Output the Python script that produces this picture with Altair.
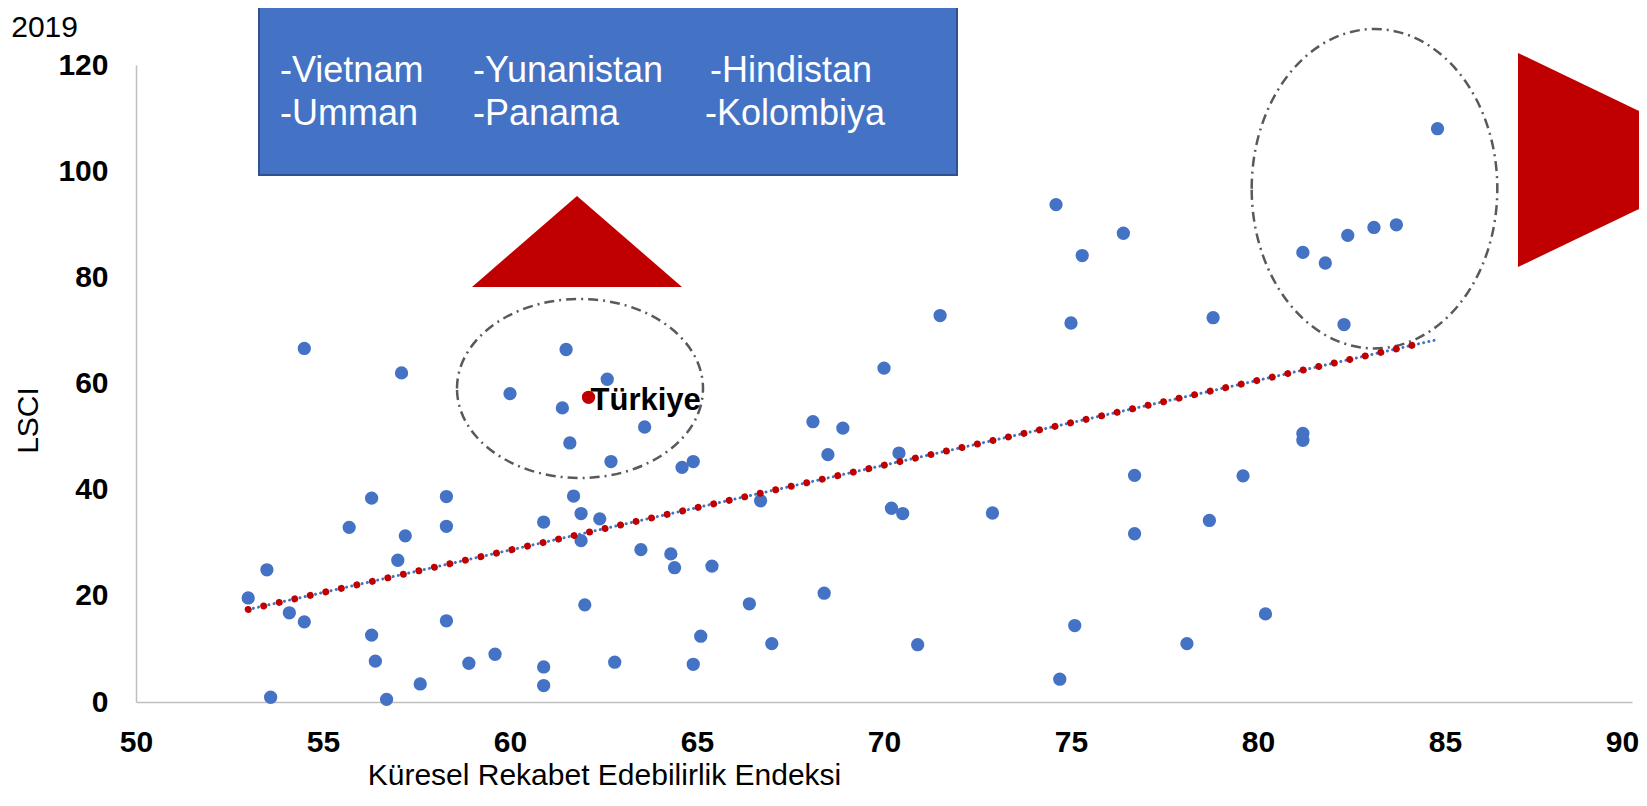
import altair as alt
import pandas as pd

# ---------------- data ----------------
gci = [56.3, 58.3, 55.7, 58.3, 57.2, 57.0, 53.5, 53.0, 54.1, 54.5, 56.3, 56.4, 53.6, 56.7,
       57.6, 58.9, 59.6, 58.3, 60.9, 60.9, 62.8, 62.0, 61.7, 61.9, 62.4, 60.9, 61.9, 63.5,
       54.5, 57.1, 60.0, 61.5, 62.6, 61.4, 61.6, 62.7, 63.6,
       64.6, 64.9, 68.5, 70.4, 66.7, 70.2, 70.5, 72.9, 76.7, 76.7, 64.3, 64.4, 65.4, 68.4,
       66.4, 65.1, 67.0, 70.9, 64.9, 75.1, 74.7,
       74.6, 76.4, 75.3, 71.5, 75.0, 70.0, 68.1, 68.9,
       84.8, 83.7, 83.1, 82.4, 81.2, 81.8, 78.8, 82.3, 81.2, 81.2,
       79.6, 78.7, 80.2, 78.1]
lsci = [38.4, 38.7, 32.9, 33.1, 31.3, 26.7, 24.9, 19.6, 16.8, 15.1, 12.6, 7.7, 0.9, 0.5,
        3.4, 7.3, 9.0, 15.3, 6.6, 3.1, 7.5, 18.3, 38.8, 35.5, 34.5, 33.9, 30.4, 28.7,
        66.6, 62.0, 58.1, 66.4, 60.8, 55.4, 48.8, 45.3, 51.8,
        44.2, 45.3, 46.6, 46.9, 37.9, 36.5, 35.5, 35.6, 42.7, 31.7, 27.9, 25.3, 25.6, 20.5,
        18.5, 12.4, 11.0, 10.8, 7.1, 14.4, 4.3,
        93.7, 88.3, 84.1, 72.8, 71.4, 62.9, 52.8, 51.6,
        108.0, 89.9, 89.4, 87.9, 84.7, 82.7, 72.4, 71.1, 50.6, 49.3,
        42.6, 34.2, 16.6, 11.0]

turkiye_x = [62.1]
turkiye_y = [57.4]
turkiye_label = ["Türkiye"]

x_ticks = [50, 55, 60, 65, 70, 75, 80, 85, 90]
y_ticks = [0, 20, 40, 60, 80, 100, 120]
x_title = "Küresel Rekabet Edebilirlik Endeksi"
y_title = "LSCI"
box_row1 = ["-Vietnam", "-Yunanistan", "-Hindistan"]
box_row2 = ["-Umman", "-Panama", "-Kolombiya"]
corner_text = ["2019"]

# ---------------- layout ----------------
FONT = "Liberation Sans"
W, H = 1496, 637
OX, OY = 136, 65          # page position of the plot origin


def px(v):
    return v - OX


def py(v):
    return v - OY


df = pd.DataFrame({"x": gci, "y": lsci})
tdf = pd.DataFrame({"x": turkiye_x, "y": turkiye_y, "label": turkiye_label})
all_df = pd.concat([df, tdf[["x", "y"]]], ignore_index=True)
one = pd.DataFrame({"k": [0]})

xs = alt.Scale(domain=[50, 90], nice=False, zero=False)
ys = alt.Scale(domain=[0, 120], nice=False)

x_axis = alt.Axis(values=x_ticks, grid=False, ticks=False, tickSize=0,
                  domainColor="#BFBFBF", domainWidth=1.5,
                  labelFont=FONT, labelFontSize=30, labelFontWeight="bold",
                  labelColor="black", labelPadding=25, labelFlush=False,
                  labelOverlap=False,
                  labelOffset=alt.ExprRef(expr="datum.value == 90 ? -10 : 0"),
                  title=x_title, titleFont=FONT, titleFontSize=30,
                  titleFontWeight="normal", titleColor="black",
                  titleX=468, titleY=82, titleAlign="center",
                  titleBaseline="alphabetic")
y_axis = alt.Axis(values=y_ticks, grid=False, ticks=False, tickSize=0,
                  domainColor="#BFBFBF", domainWidth=1.5,
                  labelFont=FONT, labelFontSize=30, labelFontWeight="bold",
                  labelColor="black", labelPadding=28, labelFlush=False,
                  labelOverlap=False,
                  title=y_title, titleFont=FONT, titleFontSize=30,
                  titleFontWeight="normal", titleColor="black",
                  titleX=-99, titleY=355, titleAngle=270, titleAlign="center",
                  titleBaseline="alphabetic")

X = alt.X("x:Q", scale=xs, axis=x_axis)
Y = alt.Y("y:Q", scale=ys, axis=y_axis)
Xn = alt.X("x:Q", scale=xs)
Yn = alt.Y("y:Q", scale=ys)

# blue text box
box = alt.Chart(one).mark_rect(fill="#4472C4", stroke="#2F528F", strokeWidth=2).encode(
    x=alt.value(px(259)), x2=alt.value(px(957)),
    y=alt.value(py(3)), y2=alt.value(py(175)))

word_x1 = [280, 473, 710]
word_x2 = [280, 473, 705]
words = []
for w, xx in zip(box_row1, word_x1):
    words.append(alt.Chart(pd.DataFrame({"t": [w]})).mark_text(
        align="left", baseline="alphabetic", font=FONT, fontSize=36, color="white"
    ).encode(text="t:N", x=alt.value(px(xx)), y=alt.value(py(82))))
for w, xx in zip(box_row2, word_x2):
    words.append(alt.Chart(pd.DataFrame({"t": [w]})).mark_text(
        align="left", baseline="alphabetic", font=FONT, fontSize=36, color="white"
    ).encode(text="t:N", x=alt.value(px(xx)), y=alt.value(py(125))))

# red triangles
tri_up = alt.Chart(one).mark_point(
    shape="M-1,0.4333L1,0.4333L0,-0.4333Z", size=44100, filled=True,
    fill="#C00000", strokeWidth=0, opacity=1
).encode(x=alt.value(px(577)), y=alt.value(py(241.5)))
tri_right = alt.Chart(one).mark_point(
    shape="M-1,-0.96L-1,0.96L1,0Z", size=49729, filled=True,
    fill="#C00000", strokeWidth=0, opacity=1
).encode(x=alt.value(px(1629.5)), y=alt.value(py(160)))

# dash-dot ellipses
ell1 = alt.Chart(one).mark_point(
    shape="M-1,0A1,0.7276,0,1,1,1,0A1,0.7276,0,1,1,-1,0Z", size=60516,
    filled=False, stroke="#595959", strokeWidth=2.5, strokeDash=[10, 5, 2, 5], opacity=1
).encode(x=alt.value(px(580)), y=alt.value(py(388.5)))
ell2 = alt.Chart(one).mark_point(
    shape="M-0.769,0A0.769,1,0,1,1,0.769,0A0.769,1,0,1,1,-0.769,0Z", size=102016,
    filled=False, stroke="#595959", strokeWidth=2.5, strokeDash=[10, 5, 2, 5], opacity=1
).encode(x=alt.value(px(1374.5)), y=alt.value(py(188.7)))

points = alt.Chart(df).mark_circle(size=177, color="#4472C4", opacity=1).encode(x=X, y=Y)

trend_blue = alt.Chart(all_df).transform_regression(
    "x", "y", extent=[53.0, 84.75]
).mark_line(color="#4472C4", strokeWidth=3, strokeDash=[0.01, 5.3], strokeCap="round").encode(x=Xn, y=Yn)
trend_red = alt.Chart(all_df).transform_regression(
    "x", "y", extent=[53.0, 84.5]
).mark_line(color="#C00000", strokeWidth=7, strokeDash=[0.01, 15.9], strokeCap="round").encode(x=Xn, y=Yn)

tk_point = alt.Chart(tdf).mark_circle(size=177, color="#C00000", opacity=1).encode(x=Xn, y=Yn)
tk_label = alt.Chart(tdf).mark_text(
    align="left", baseline="alphabetic", dx=2, dy=13, font=FONT, fontSize=31,
    fontWeight="bold", color="black"
).encode(x=Xn, y=Yn, text="label:N")

corner = alt.Chart(pd.DataFrame({"t": corner_text})).mark_text(
    align="right", baseline="alphabetic", font=FONT, fontSize=30, color="black"
).encode(text="t:N", x=alt.value(px(78)), y=alt.value(py(37)))

chart = alt.layer(
    points, box, *words, tri_up, tri_right, ell1, ell2,
    trend_blue, trend_red, tk_point, tk_label, corner
).properties(
    width=W, height=H,
    padding={"left": 128, "top": 57, "right": 7, "bottom": 91},
    autosize=alt.AutoSizeParams(type="none"),
    background="white",
).configure_view(stroke=None)

chart.save("out.html", embed_options={"renderer": "svg", "actions": False})
